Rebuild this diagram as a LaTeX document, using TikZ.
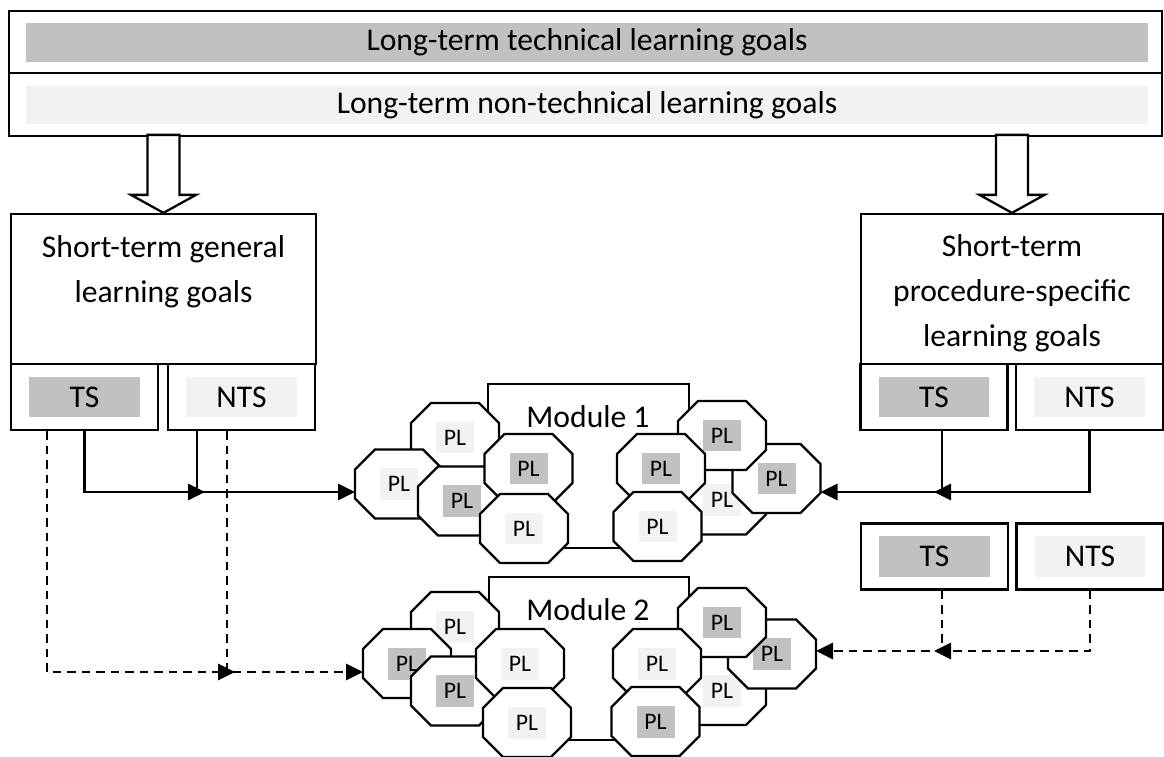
\documentclass[tikz,border=0pt]{standalone}
\usepackage{fontspec}
\setmainfont{Carlito}
\usetikzlibrary{arrows.meta, positioning, calc}

\definecolor{darkbar}{RGB}{192,193,195}
\definecolor{lightbar}{RGB}{241,242,241}

% une cellule PL : octogone + etiquette grisee
\newcommand{\plcell}[4]{%
  \filldraw[cellline] (#2,#3) ++(-24,-34.5) -- ++(48,0) -- ++(20,20) -- ++(0,29)
    -- ++(-20,20) -- ++(-48,0) -- ++(-20,-20) -- ++(0,-29) -- cycle;
  \node[plbox, fill=#4] (#1) at (#2,#3) {PL};
  \path (#2,#3) ++(-44,0) coordinate (#1-w) ++(88,0) coordinate (#1-e);
}
% fleche creuse, pointe en #1
\newcommand{\hollowarrow}[1]{%
  \filldraw[cellline] (#1) -- ++(-32.5,-18) -- ++(16.5,0) -- ++(0,-60)
    -- ++(32,0) -- ++(0,60) -- ++(16.5,0) -- cycle;
}

\begin{document}
\begin{tikzpicture}[x=0.02cm, y=-0.02cm,
    font=\fontsize{18}{25.5}\selectfont,
    box/.style={draw, line width=1.3pt, fill=white, inner sep=0pt},
    cellline/.style={draw, line width=1.3pt, fill=white},
    bar/.style={inner sep=0pt, minimum width=22.44cm, minimum height=0.78cm},
    sbox/.style={box, minimum width=2.94cm, minimum height=1.32cm},
    tag/.style={inner sep=0pt, minimum width=2.22cm, minimum height=0.82cm,
      font=\fontsize{18}{25.5}\selectfont},
    plbox/.style={inner sep=0pt, minimum width=0.76cm, minimum height=0.64cm,
      font=\fontsize{13.5}{16}\selectfont},
    conn/.style={line width=1.6pt, -{Triangle[length=0.34cm, width=0.32cm]}},
    dconn/.style={conn, dash pattern=on 0.17cm off 0.12cm}]

    \useasboundingbox (0,0) rectangle (1164,757);

    % Objectifs long terme
    \node[box, minimum width=23.06cm, minimum height=1.24cm] (ltech) at (585.5,42) {};
    \node[bar, fill=darkbar] (ltechbar) at (587,42.5) {Long-term technical learning goals};
    \node[box, minimum width=23.06cm, minimum height=1.26cm] (lnon) at (585.5,104.5) {};
    \node[bar, fill=lightbar] (lnonbar) at (587,105) {Long-term non-technical learning goals};

    % Objectifs court terme
    \node[box, minimum width=6.1cm, minimum height=3cm] (stg) at (163.5,289) {};
    \node[align=center] (stgtext) at (163.5,272) {Short-term general\\learning goals};
    \node[box, minimum width=6.04cm, minimum height=3cm] (sps) at (1012,289) {};
    \node[align=center] (spstext) at (1012,293.5) {Short-term\\procedure-specific\\learning goals};

    \hollowarrow{stg.north}
    \hollowarrow{sps.north}

    % TS / NTS
    \node[sbox, label={[tag, fill=darkbar]center:TS}] (ts1) at (84.5,397) {};
    \node[sbox, label={[tag, fill=lightbar]center:NTS}] (nts1) at (241.5,397) {};
    \node[sbox, label={[tag, fill=darkbar]center:TS}] (ts2) at (934,397) {};
    \node[sbox, label={[tag, fill=lightbar]center:NTS}] (nts2) at (1089.5,397) {};
    \node[sbox, label={[tag, fill=darkbar]center:TS}] (ts3) at (934.5,556.5) {};
    \node[sbox, label={[tag, fill=lightbar]center:NTS}] (nts3) at (1090,556.5) {};

    % Modules
    \node[box, minimum width=4.02cm, minimum height=3.28cm] (mod1) at (588.5,466) {};
    \node (mod1text) at (588,416.5) {Module 1};
    \node[box, minimum width=4cm, minimum height=3.26cm] (mod2) at (589,658.5) {};
    \node (mod2text) at (588,610) {Module 2};

    \foreach \n/\x/\y/\c in {a1/455/437.5/lightbar, a2/399/484/lightbar, a3/462/501/darkbar,
        a4/528.5/468.5/darkbar, a5/524/528.5/lightbar,
        b4/722/500/lightbar, b5/776.5/478.5/darkbar, b1/722/435.5/darkbar,
        b2/661/468.5/darkbar, b3/657.5/526.5/lightbar,
        c1/455/626.5/lightbar, c2/407/663.5/darkbar, c3/455/691/darkbar,
        c4/520/663.5/lightbar, c5/527/722.5/lightbar,
        d4/722/690.5/lightbar, d5/772/654/darkbar, d1/722/622.5/darkbar,
        d2/657/663.5/lightbar, d3/655.5/721.5/darkbar}
      \plcell{\n}{\x}{\y}{\c};

    % Liaisons
    \coordinate (jl) at (197,492);
    \coordinate (jld) at (227,672);
    \coordinate (jr) at (942,492);
    \coordinate (jrd) at (942,651);

    \draw[conn, shorten >=-0.16cm] (ts1.south) |- (jl);
    \draw[conn] (jl |- nts1.south) -- (jl) -- (a2-w |- jl);
    \draw[dconn, shorten >=-0.16cm] ([xshift=-0.75cm]ts1.south) |- (jld);
    \draw[dconn] (jld |- nts1.south) -- (jld) -- (c2-w |- jld);

    \draw[conn, shorten >=-0.16cm] (nts2.south) |- (jr);
    \draw[conn] (jr |- ts2.south) -- (jr) -- (b5-e |- jr);
    \draw[dconn, shorten >=-0.16cm] (nts3.south) |- (jrd);
    \draw[dconn] (jrd |- ts3.south) -- (jrd) -- (d5-e |- jrd);
\end{tikzpicture}
\end{document}
